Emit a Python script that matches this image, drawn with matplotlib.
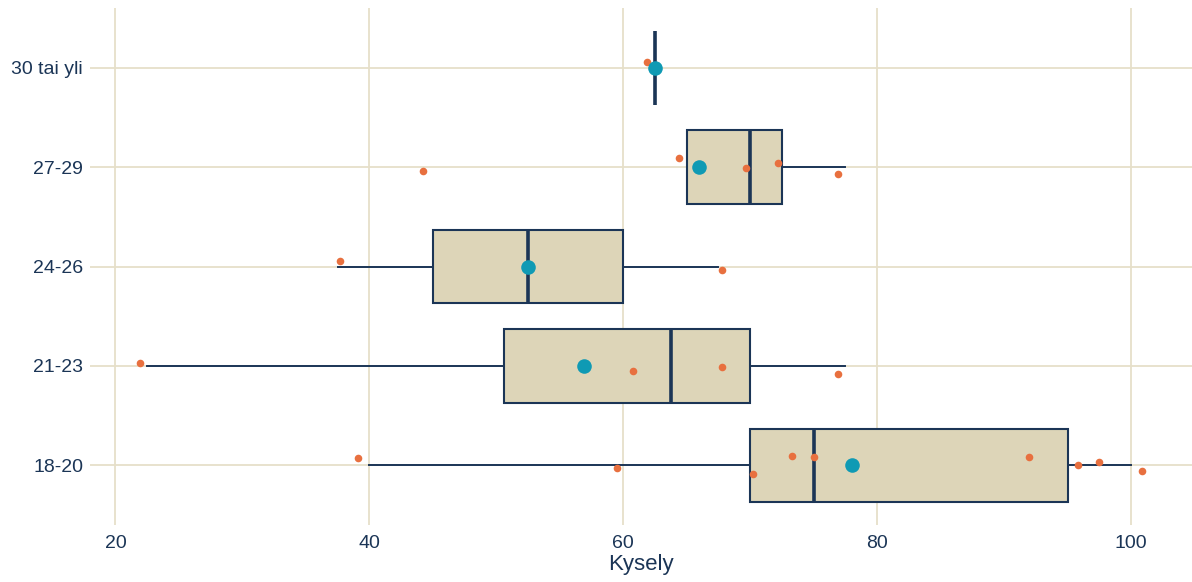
import matplotlib
matplotlib.use("Agg")
import matplotlib.pyplot as plt
import numpy as np

plt.rcParams['font.family'] = ['Liberation Sans', 'DejaVu Sans']

# Data
categories = ["18-20", "21-23", "24-26", "27-29", "30 tai yli"]
values = [
    [40, 60, 70, 72.5, 75, 92.5, 95, 97.5, 100],
    [22.5, 60, 67.5, 77.5],
    [37.5, 67.5],
    [45, 65, 70, 72.5, 77.5],
    [62.5],
]
# jittered positions of the individual points as displayed (x value, y offset)
jitter_x = [
    [39.1, 59.5, 70.2, 73.3, 75.0, 92.0, 95.8, 97.5, 100.9],
    [21.9, 60.8, 67.8, 76.9],
    [37.7, 67.8],
    [44.2, 64.4, 69.7, 72.2, 76.9],
    [61.9],
]
jitter_y = [
    [0.07, -0.03, -0.09, 0.09, 0.08, 0.08, 0.0, 0.03, -0.06],
    [0.03, -0.05, -0.01, -0.08],
    [0.06, -0.03],
    [-0.04, 0.09, -0.01, 0.04, -0.07],
    [0.06],
]
x_ticks = [20, 40, 60, 80, 100]

navy = "#1B3556"
box_fill = "#DDD5B8"
grid_c = "#E6DFC9"
orange = "#E8703F"
teal = "#0F9AB4"

fig = plt.figure(figsize=(11.92, 5.82), dpi=100)
ax = fig.add_axes([0.0755, 0.098, 0.9245, 0.888])

pos = np.arange(len(categories))
ax.boxplot(values, positions=pos, orientation='horizontal', widths=0.74,
           patch_artist=True, showfliers=False, showcaps=False,
           boxprops=dict(facecolor=box_fill, edgecolor=navy, linewidth=1.5),
           medianprops=dict(color=navy, linewidth=2.6),
           whiskerprops=dict(color=navy, linewidth=1.4),
           zorder=2)

for i, (xs, ys) in enumerate(zip(jitter_x, jitter_y)):
    ax.scatter(xs, [i + y for y in ys], s=30, color=orange, zorder=3, linewidths=0)

means = [np.mean(v) for v in values]
ax.scatter(means, pos, s=110, color=teal, zorder=4, linewidths=0)

ax.set_xlim(18.0, 104.8)
ax.set_ylim(-0.6, 4.6)
ax.set_yticks(pos)
ax.set_yticklabels(categories)
ax.set_xticks(x_ticks)
ax.set_xticklabels([str(t) for t in x_ticks])
ax.grid(True, color=grid_c, linewidth=1.3, zorder=0)
ax.set_axisbelow(True)
for s in ax.spines.values():
    s.set_visible(False)
ax.tick_params(axis='both', length=0, labelsize=14, labelcolor=navy)
ax.tick_params(axis='y', pad=5)
ax.tick_params(axis='x', pad=7)
ax.set_xlabel("Kysely", fontsize=16, color=navy, labelpad=2)

fig.savefig("out.png", dpi=100)
